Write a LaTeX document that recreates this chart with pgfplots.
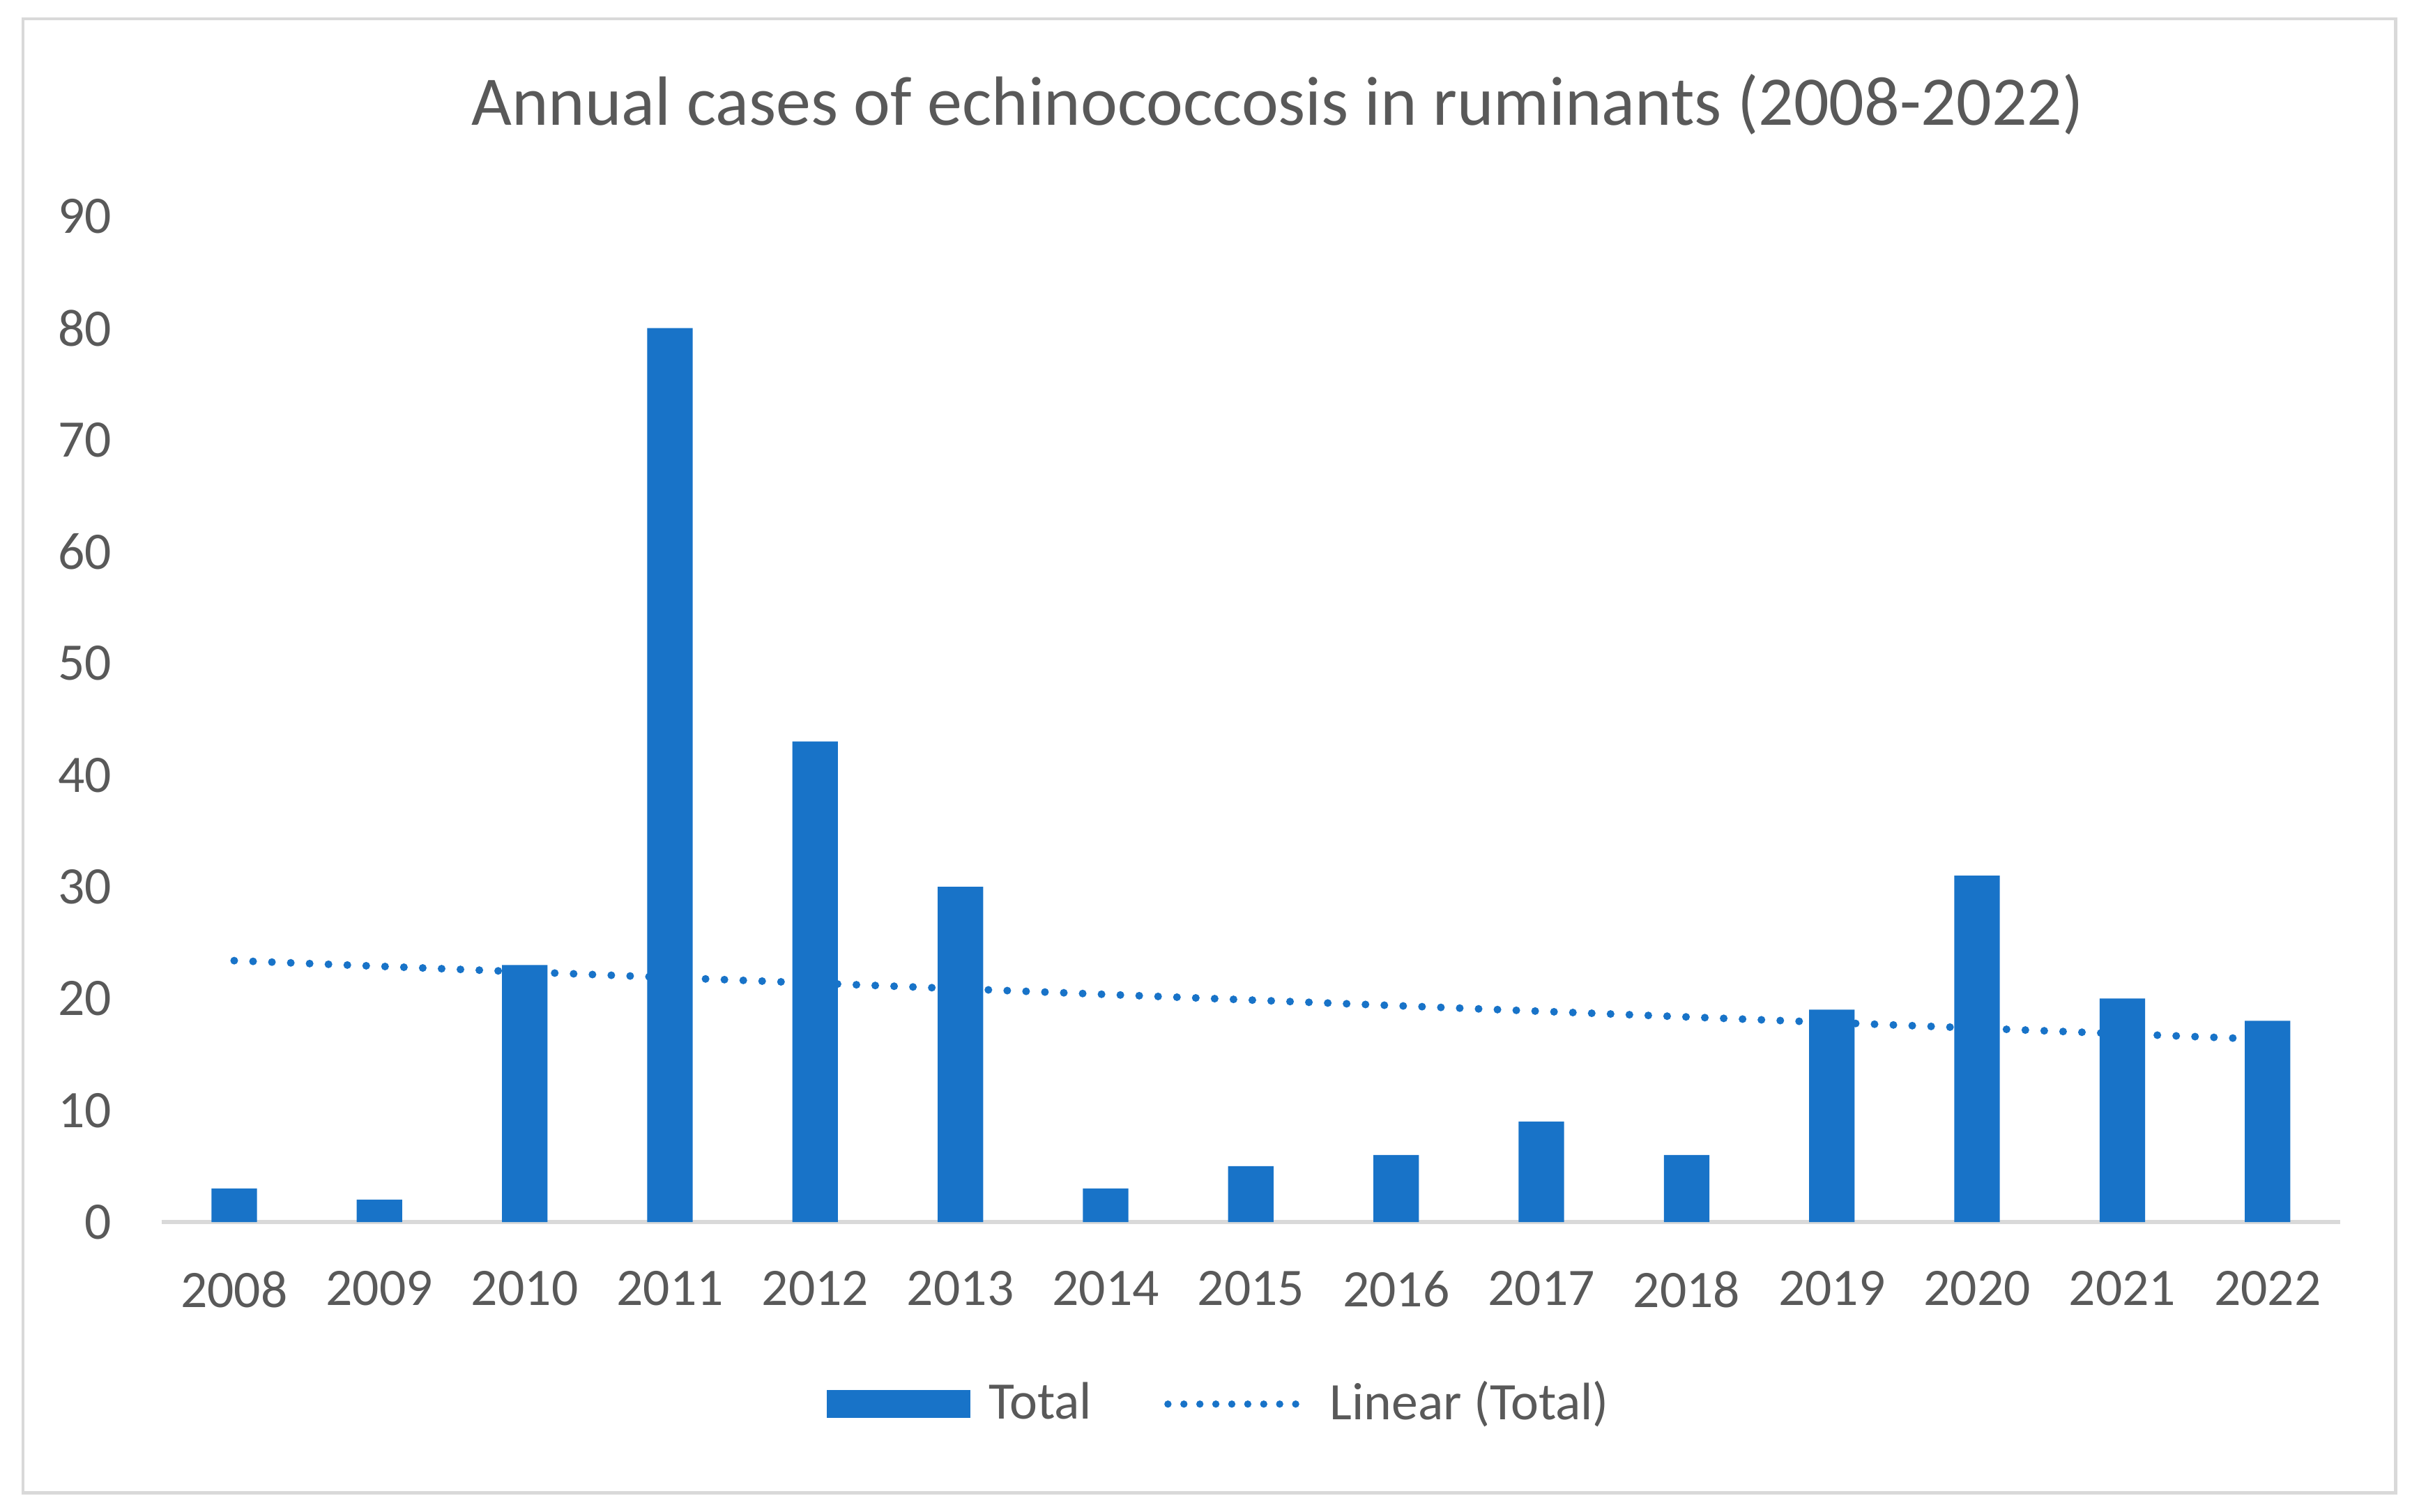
\documentclass[border=0pt]{standalone}
\usepackage{pgfplots}
\pgfplotsset{compat=1.18}
\usepackage{fontspec}
\setmainfont{Carlito}
\definecolor{barblue}{HTML}{1873C8}
\definecolor{txt}{HTML}{595959}
\definecolor{lgray}{HTML}{D9D9D9}
\begin{document}
\begin{tikzpicture}
\useasboundingbox (-33.4pt,-59.8pt) rectangle (466.6pt,252.6pt);
\begin{axis}[
  scale only axis,
  width=450.3pt, height=207.9pt,
  xmin=-0.5, xmax=14.5, ymin=0, ymax=90,
  axis lines*=left,
  x axis line style={draw=lgray, line width=0.75pt},
  y axis line style={draw=none},
  major tick length=0pt,
  ytick={0,10,...,90},
  xtick={0,1,...,14},
  xticklabels={2008,2009,2010,2011,2012,2013,2014,2015,2016,2017,2018,2019,2020,2021,2022},
  /pgf/number format/assume math mode=true,
  tick label style={font=\fontsize{10.9}{12}\selectfont, text=txt},
  yticklabel style={xshift=-6.8pt},
  xticklabel style={yshift=-6.6pt},
  legend style={at={(0.487,-0.181)}, anchor=center, draw=none, fill=none,
    legend columns=2, font=\fontsize{10.9}{12}\selectfont, text=txt,
    /tikz/every odd column/.append style={column sep=1.8pt},
    /tikz/every even column/.append style={column sep=13pt}},
]
\addplot[ybar, bar width=9.4pt, fill=barblue, draw=none,
  legend image code/.code={\fill[barblue] (0pt,-2.9pt) rectangle (29.7pt,2.9pt);}]
  coordinates {(0,3) (1,2) (2,23) (3,80) (4,43) (5,30) (6,3) (7,5) (8,6) (9,9) (10,6) (11,19) (12,31) (13,20) (14,18)};
\addlegendentry{Total}
\addplot[barblue, line width=1.6pt, line cap=round, dash pattern=on 0pt off 3.9pt,
  legend image code/.code={\draw[barblue,line width=1.5pt,line cap=round,dash pattern=on 0pt off 3.3pt] (0.75pt,0pt) -- (29.7pt,0pt);}]
  coordinates {(0,23.39) (14,16.34)};
\addlegendentry{Linear (Total)}
\end{axis}
\node[text=txt, font=\fontsize{14.4}{17}\selectfont] at (230.7pt,231pt) {Annual cases of echinococcosis in ruminants (2008-2022)};
\draw[lgray, line width=0.7pt] (-28.65pt,-56pt) rectangle (461.8pt,248.7pt);
\end{tikzpicture}
\end{document}
